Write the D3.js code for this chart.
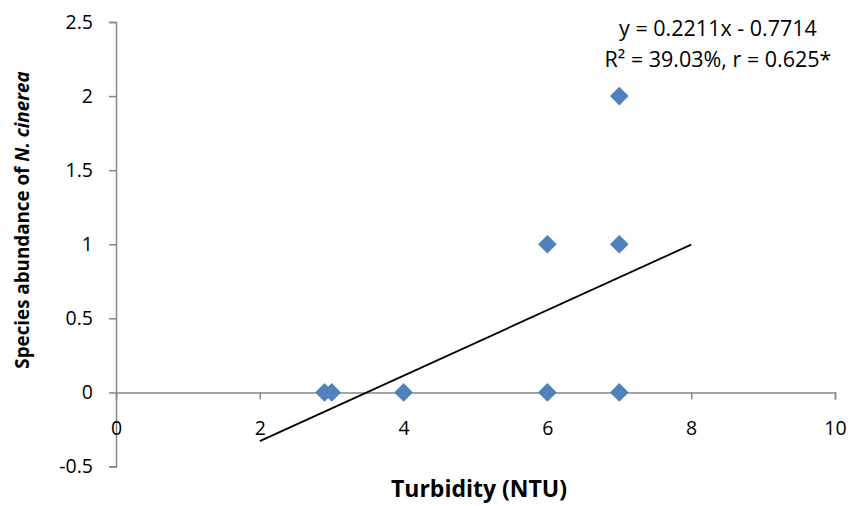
<!DOCTYPE html>
<html>
<head>
<meta charset="utf-8">
<script src="https://cdn.jsdelivr.net/npm/d3@7"></script>
<style>
  html, body { margin: 0; padding: 0; background: #fff; }
  svg { display: block; font-family: "Open Sans", "Noto Sans", sans-serif; }
</style>
</head>
<body>
<svg id="chart" width="851" height="506"></svg>
<script>
// Turbidity readings and species abundance counts
const turbidity = [2.9, 3, 4, 6, 7, 6, 7, 7];
const abundance = [0, 0, 0, 0, 0, 1, 1, 2];

// Axis ticks
const xTicks = [0, 2, 4, 6, 8, 10];
const yTicks = [-0.5, 0, 0.5, 1, 1.5, 2, 2.5];

// Linear trend line: y = slope * x + intercept, drawn over trendRange
const slope = 0.2211;
const intercept = -0.7714;
const trendRange = [2, 8];
const equationLines = ["y = 0.2211x - 0.7714", "R² = 39.03%, r = 0.625*"];

const svg = d3.select("#chart");
const x = d3.scaleLinear().domain([0, 10]).range([116, 835]);
const y = d3.scaleLinear().domain([-0.5, 2.5]).range([466.5, 22]);

const axisColor = "#868686";
const fontSize = 19.5;
const plain = d => String(d); // keeps an ASCII hyphen for negatives

// Y axis (vertical line at x = 0)
const yAxis = svg.append("g")
  .attr("transform", `translate(${x(0)},0)`)
  .call(d3.axisLeft(y).tickValues(yTicks).tickSize(7).tickPadding(16).tickFormat(plain));
yAxis.select(".domain").attr("stroke", axisColor).attr("stroke-width", 1.5);
yAxis.selectAll(".tick line").attr("stroke", axisColor).attr("stroke-width", 1.5);
yAxis.selectAll(".tick text").attr("fill", "#000").style("font-size", fontSize + "px")
  .style("font-family", "'Open Sans', sans-serif");

// X axis (horizontal line at y = 0), labels placed below the plot
const xAxis = svg.append("g")
  .attr("transform", `translate(0,${y(0)})`)
  .call(d3.axisBottom(x).tickValues(xTicks).tickSize(7).tickSizeOuter(7).tickFormat(plain));
xAxis.select(".domain").attr("stroke", axisColor).attr("stroke-width", 1.5);
xAxis.selectAll(".tick line").attr("stroke", axisColor).attr("stroke-width", 1.5);
xAxis.selectAll(".tick text").attr("fill", "#000").style("font-size", fontSize + "px")
  .style("font-family", "'Open Sans', sans-serif")
  .attr("y", 0).attr("dy", "2.2em");
// The x tick at 0 coincides with the y axis
xAxis.selectAll(".tick").filter(d => d === 0).select("line").remove();

// Trend line
svg.append("line")
  .attr("x1", x(trendRange[0])).attr("y1", y(slope * trendRange[0] + intercept))
  .attr("x2", x(trendRange[1])).attr("y2", y(slope * trendRange[1] + intercept))
  .attr("stroke", "#000").attr("stroke-width", 1.8);

// Diamond markers
const diamond = d3.symbol().type(d3.symbolSquare).size(175);
svg.append("g").selectAll("path")
  .data(turbidity.map((t, i) => [t, abundance[i]]))
  .join("path")
  .attr("d", diamond)
  .attr("transform", d => `translate(${x(d[0])},${y(d[1])}) rotate(45)`)
  .attr("fill", "#4F81BD");

// Regression equation
const eq = svg.append("text")
  .attr("text-anchor", "middle")
  .style("font-size", "21.5px")
  .attr("fill", "#000");
equationLines.forEach((line, i) => {
  eq.append("tspan").attr("x", 718).attr("y", 36 + i * 31).text(line);
});

// Axis titles
svg.append("text")
  .attr("x", 479).attr("y", 497)
  .attr("text-anchor", "middle")
  .style("font-size", "23px").style("font-weight", "bold")
  .text("Turbidity (NTU)");

const yTitle = svg.append("text")
  .attr("transform", `translate(29,220) rotate(-90)`)
  .attr("text-anchor", "middle")
  .style("font-size", "18.8px").style("font-weight", "bold");
yTitle.append("tspan").text("Species abundance of ");
yTitle.append("tspan").style("font-style", "italic").text("N. cinerea");
</script>
</body>
</html>
